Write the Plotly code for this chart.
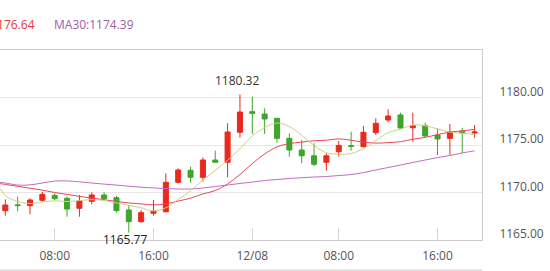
import plotly.graph_objects as go

# ---- data (hourly candles) ----
times = ["12/07 03:00", "12/07 04:00", "12/07 05:00", "12/07 06:00", "12/07 07:00",
         "12/07 08:00", "12/07 09:00", "12/07 10:00", "12/07 11:00", "12/07 12:00",
         "12/07 13:00", "12/07 14:00", "12/07 15:00", "12/07 16:00", "12/07 17:00",
         "12/07 18:00", "12/07 19:00", "12/07 20:00", "12/07 21:00", "12/07 22:00",
         "12/07 23:00", "12/08 00:00", "12/08 01:00", "12/08 02:00", "12/08 03:00",
         "12/08 04:00", "12/08 06:00", "12/08 07:00", "12/08 08:00", "12/08 09:00",
         "12/08 10:00", "12/08 11:00", "12/08 12:00", "12/08 13:00", "12/08 14:00",
         "12/08 15:00", "12/08 16:00", "12/08 17:00", "12/08 18:00", "12/08 19:00"]

opens = [1169.05, 1168.08, 1168.70, 1168.61, 1169.18, 1169.70, 1169.39, 1168.34, 1169.07, 1169.74,
         1169.46, 1168.16, 1166.93, 1167.81, 1167.98, 1171.07, 1172.34, 1171.60, 1173.42, 1173.18,
         1176.34, 1178.51, 1178.26, 1177.81, 1175.70, 1174.47, 1173.87, 1173.18, 1174.30, 1174.93,
         1174.82, 1176.30, 1177.63, 1178.16, 1176.82, 1177.03, 1176.05, 1175.70, 1176.44, 1176.26]
highs = [1169.40, 1169.28, 1169.58, 1169.39, 1170.05, 1169.91, 1169.56, 1169.74, 1170.02, 1170.02,
         1169.63, 1168.68, 1168.16, 1169.21, 1172.02, 1172.54, 1172.72, 1173.70, 1174.40, 1177.28,
         1180.32, 1180.09, 1178.86, 1177.81, 1176.23, 1175.53, 1175.18, 1174.12, 1175.42, 1176.40,
         1177.00, 1177.81, 1178.76, 1178.40, 1178.40, 1177.35, 1176.75, 1177.21, 1176.79, 1177.11]
lows = [1168.30, 1167.56, 1168.00, 1167.71, 1169.03, 1169.21, 1167.45, 1167.45, 1168.76, 1169.28,
        1167.88, 1165.77, 1166.82, 1167.56, 1167.90, 1170.96, 1171.04, 1171.14, 1173.18, 1171.60,
        1175.77, 1176.16, 1176.16, 1175.24, 1173.77, 1173.07, 1172.79, 1172.30, 1173.77, 1174.40,
        1174.76, 1176.05, 1177.39, 1176.72, 1175.35, 1175.81, 1173.95, 1173.95, 1174.12, 1175.77]
closes = [1168.55, 1168.68, 1168.62, 1169.21, 1169.81, 1169.35, 1168.26, 1169.11, 1169.74, 1169.35,
          1168.09, 1166.93, 1167.88, 1168.05, 1171.07, 1172.37, 1171.60, 1173.42, 1173.18, 1176.37,
          1178.47, 1178.33, 1177.74, 1175.70, 1174.47, 1173.87, 1172.97, 1173.87, 1174.96, 1174.86,
          1176.34, 1177.28, 1178.05, 1176.79, 1177.03, 1175.95, 1175.63, 1176.40, 1176.26, 1176.37]

ma5 = [1171.80, 1169.70, 1169.05, 1168.85, 1169.00, 1169.13, 1169.05, 1169.15, 1169.25, 1169.16,
       1168.91, 1168.64, 1168.40, 1168.06, 1168.40, 1169.26, 1170.19, 1171.30, 1172.33, 1173.39,
       1174.61, 1175.95, 1176.82, 1177.32, 1176.94, 1176.02, 1174.95, 1174.18, 1174.03, 1174.11,
       1174.60, 1175.46, 1176.30, 1176.66, 1177.10, 1177.02, 1176.69, 1176.36, 1176.25, 1176.12]
ma10 = [1171.05, 1170.85, 1170.65, 1170.45, 1170.25, 1170.00, 1169.80, 1169.60, 1169.40, 1169.25,
        1169.05, 1168.90, 1168.80, 1168.70, 1168.80, 1169.10, 1169.40, 1169.85, 1170.20, 1170.90,
        1171.90, 1173.05, 1174.05, 1174.80, 1175.15, 1175.30, 1175.45, 1175.50, 1175.65, 1175.50,
        1175.30, 1175.20, 1175.25, 1175.35, 1175.60, 1175.80, 1176.10, 1176.35, 1176.50, 1176.64]
ma30 = [1171.15, 1171.00, 1170.78, 1170.80, 1171.00, 1171.20, 1171.22, 1171.12, 1171.00, 1170.88,
        1170.78, 1170.66, 1170.56, 1170.48, 1170.41, 1170.37, 1170.37, 1170.47, 1170.63, 1170.79,
        1170.95, 1171.10, 1171.26, 1171.37, 1171.47, 1171.56, 1171.63, 1171.68, 1171.79, 1171.89,
        1172.10, 1172.37, 1172.63, 1172.89, 1173.16, 1173.42, 1173.68, 1173.89, 1174.16, 1174.39]

tick_times = ["12/07 08:00", "12/07 16:00", "12/08 00:00", "12/08 08:00", "12/08 16:00"]
tick_labels = ["08:00", "16:00", "12/08", "08:00", "16:00"]
y_ticks = [1165, 1170, 1175, 1180]
legend_texts = ["MA10:1176.64", "MA30:1174.39"]
max_label = "1180.32"
min_label = "1165.77"

RED = "#e8291c"
GREEN = "#3da62b"
FONT = "Open Sans"

fig = go.Figure()
fig.add_trace(go.Candlestick(
    x=times, open=opens, high=highs, low=lows, close=closes,
    increasing=dict(line=dict(color=RED, width=1), fillcolor=RED),
    decreasing=dict(line=dict(color=GREEN, width=1), fillcolor=GREEN),
    whiskerwidth=0, showlegend=False, hoverinfo="skip",
))
for vals, col in [(ma30, "#c46cc4"), (ma10, "#e8485a"), (ma5, "#d4cc80")]:
    fig.add_trace(go.Scatter(x=times, y=vals, mode="lines",
                             line=dict(color=col, width=1, shape="spline"),
                             showlegend=False, hoverinfo="skip"))

i_max = highs.index(max(highs))
i_min = lows.index(min(lows))
fig.add_annotation(x=times[i_max], y=highs[i_max], text=max_label, showarrow=False,
                   yanchor="bottom", yshift=3, xshift=-3,
                   font=dict(family=FONT, size=12, color="#333"))
fig.add_annotation(x=times[i_min], y=lows[i_min], text=min_label, showarrow=False,
                   yanchor="top", yshift=4, xshift=-4,
                   font=dict(family=FONT, size=12, color="#222"))

fig.add_annotation(xref="paper", yref="paper", x=37 / 482, y=1.1316, xanchor="right",
                   yanchor="middle", text=legend_texts[0], showarrow=False,
                   font=dict(family=FONT, size=12, color="#e8353a"))
fig.add_annotation(xref="paper", yref="paper", x=52 / 482, y=1.1316, xanchor="left",
                   yanchor="middle", text=legend_texts[1], showarrow=False,
                   font=dict(family=FONT, size=12, color="#a060a8"))

fig.add_shape(type="line", xref="paper", yref="paper", x0=0, x1=1,
              y0=-30 / 190, y1=-30 / 190, line=dict(color="#c8c8c8", width=1))

fig.update_layout(
    width=550, height=271,
    margin=dict(l=0, r=68, t=50, b=31),
    paper_bgcolor="white", plot_bgcolor="white",
    font=dict(family=FONT, size=12, color="#555"),
    boxgap=0.42,
    xaxis=dict(type="category", categoryorder="array", categoryarray=times,
               range=[0.57, 39.6], rangeslider=dict(visible=False),
               tickvals=tick_times, ticktext=tick_labels,
               ticks="inside", ticklen=12, tickcolor="#d8d8d8",
               ticklabelstandoff=5,
               showgrid=False, showline=True, linecolor="#cccccc", mirror=True,
               tickfont=dict(family=FONT, size=12, color="#555")),
    yaxis=dict(side="right", range=[1165, 1185], tickvals=y_ticks, tickformat=".2f",
               showgrid=True, gridcolor="#e6e6e6", showline=True, linecolor="#cccccc",
               ticks="", ticklabelstandoff=14, ticklabelshift=-6, zeroline=False,
               tickfont=dict(family=FONT, size=12, color="#555")),
)

fig.write_html("out.html")
